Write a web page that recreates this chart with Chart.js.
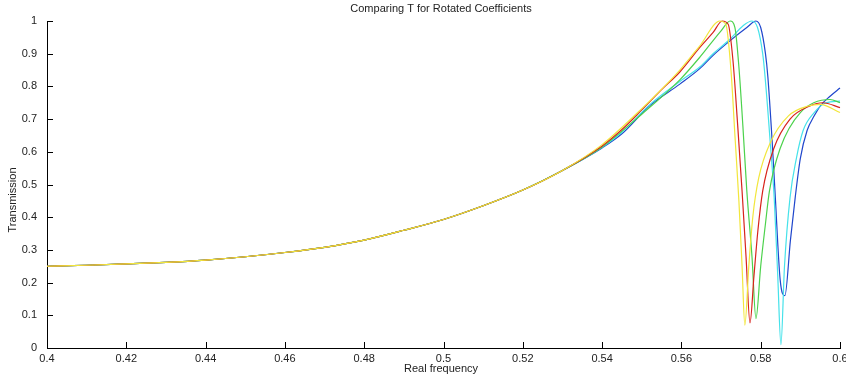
<!DOCTYPE html>
<html>
<head>
<meta charset="utf-8">
<script src="https://cdn.jsdelivr.net/npm/chart.js@4"></script>
<style>
  html, body { margin: 0; padding: 0; background: #fff; }
  canvas { display: block; }
</style>
</head>
<body>
<canvas id="chart" width="846" height="375"></canvas>
<script>
// Axis ticks
const xTicks = [0.4, 0.42, 0.44, 0.46, 0.48, 0.5, 0.52, 0.54, 0.56, 0.58, 0.6];
const yTicks = [0, 0.1, 0.2, 0.3, 0.4, 0.5, 0.6, 0.7, 0.8, 0.9, 1];

// Shared low-frequency part (all curves overlap here)
const lowFreq = [0.40, 0.41, 0.42, 0.43, 0.44, 0.45, 0.46, 0.47, 0.48, 0.49, 0.50, 0.51, 0.52, 0.53];
const lowT    = [0.250, 0.253, 0.257, 0.262, 0.269, 0.279, 0.292, 0.308, 0.330, 0.360, 0.393, 0.435, 0.483, 0.543];

// Resonance region, per curve
const redFreq = [0.54, 0.545, 0.55, 0.555, 0.5596, 0.5647, 0.568, 0.5703, 0.5718, 0.5730, 0.5742, 0.5753, 0.5763, 0.5773, 0.5783, 0.5793, 0.5805, 0.5833, 0.5874, 0.5924, 0.5957, 0.6];
const redT    = [0.618, 0.668, 0.728, 0.79, 0.844, 0.92, 0.965, 1.0, 0.99, 0.88, 0.68, 0.48, 0.28, 0.077, 0.22, 0.36, 0.48, 0.61, 0.70, 0.74, 0.75, 0.735];

const yellowFreq = [0.54, 0.55, 0.5596, 0.5647, 0.5697, 0.5712, 0.5725, 0.5735, 0.5745, 0.5753, 0.5760, 0.5770, 0.578, 0.5795, 0.5825, 0.587, 0.592, 0.595, 0.6];
const yellowT    = [0.622, 0.732, 0.85, 0.925, 1.0, 0.99, 0.85, 0.65, 0.45, 0.25, 0.07, 0.25, 0.40, 0.52, 0.63, 0.71, 0.74, 0.745, 0.72];

const greenFreq = [0.54, 0.55, 0.5596, 0.5647, 0.570, 0.5723, 0.5735, 0.5745, 0.5755, 0.5765, 0.5778, 0.5788, 0.5800, 0.5812, 0.5822, 0.5849, 0.590, 0.5975, 0.6];
const greenT    = [0.615, 0.715, 0.82, 0.89, 0.97, 1.0, 0.98, 0.86, 0.68, 0.48, 0.28, 0.09, 0.25, 0.38, 0.48, 0.61, 0.72, 0.76, 0.75];

const blueFreq = [0.54, 0.545, 0.5521, 0.5596, 0.5647, 0.568, 0.5723, 0.5765, 0.5788, 0.5800, 0.5812, 0.5818, 0.5829, 0.5836, 0.5849, 0.5861, 0.5875, 0.5887, 0.5900, 0.5917, 0.5935, 0.5950, 0.5975, 0.6];
const blueT    = [0.612, 0.655, 0.742, 0.807, 0.855, 0.895, 0.94, 0.98, 1.0, 0.98, 0.90, 0.83, 0.63, 0.48, 0.21, 0.16, 0.33, 0.46, 0.58, 0.665, 0.71, 0.74, 0.77, 0.795];

const cyanFreq = [0.54, 0.545, 0.5521, 0.5596, 0.5647, 0.568, 0.5723, 0.5755, 0.5778, 0.5792, 0.5805, 0.5811, 0.5824, 0.5834, 0.5843, 0.5851, 0.5860, 0.5874, 0.5890, 0.5907, 0.5935, 0.5965, 0.6];
const cyanT    = [0.614, 0.66, 0.745, 0.815, 0.86, 0.90, 0.945, 0.985, 1.0, 0.98, 0.90, 0.83, 0.63, 0.46, 0.22, 0.01, 0.25, 0.46, 0.58, 0.665, 0.72, 0.75, 0.755];

function points(freq, t) {
    return lowFreq.map((f, i) => ({ x: f, y: lowT[i] }))
        .concat(freq.map((f, i) => ({ x: f, y: t[i] })));
}

function line(data, color) {
    return {
        data: data,
        borderColor: color,
        borderWidth: 1.2,
        pointRadius: 0,
        showLine: true,
        cubicInterpolationMode: 'monotone',
        fill: false,
        clip: 3
    };
}

const textColor = '#222';
const font = { family: 'Liberation Sans, Arial, sans-serif', size: 11 };

// title, axis titles and inward tick marks
const decor = {
    id: 'decor',
    afterDraw(chart) {
        const ctx = chart.ctx;
        const area = chart.chartArea;
        const xs = chart.scales.x, ys = chart.scales.y;
        ctx.save();
        ctx.strokeStyle = '#000';
        ctx.lineWidth = 1;
        ctx.beginPath();
        xs.ticks.forEach(t => {
            const px = Math.round(xs.getPixelForValue(t.value)) + 0.5;
            ctx.moveTo(px, area.bottom);
            ctx.lineTo(px, area.bottom - 6);
        });
        ys.ticks.forEach(t => {
            const py = Math.round(ys.getPixelForValue(t.value)) + 0.5;
            ctx.moveTo(area.left, py);
            ctx.lineTo(area.left + 6, py);
        });
        ctx.stroke();

        ctx.fillStyle = textColor;
        ctx.font = '11px Liberation Sans, Arial, sans-serif';
        ctx.textAlign = 'center';
        ctx.textBaseline = 'alphabetic';
        // title sits partly above the top edge, as in the source image
        ctx.fillText('Comparing T for Rotated Coefficients', 441, 12);
        ctx.fillText('Real frequency', 441, 372);
        ctx.translate(16, 200);
        ctx.rotate(-Math.PI / 2);
        ctx.fillText('Transmission', 0, 0);
        ctx.restore();
    }
};

new Chart(document.getElementById('chart'), {
    type: 'scatter',
    data: {
        datasets: [
            line(points(yellowFreq, yellowT), '#f2e63c'),
            line(points(redFreq, redT), '#d8231c'),
            line(points(greenFreq, greenT), '#4cd24c'),
            line(points(cyanFreq, cyanT), '#45e2ea'),
            line(points(blueFreq, blueT), '#1f46cc')
        ]
    },
    plugins: [decor],
    options: {
        responsive: false,
        animation: false,
        devicePixelRatio: 1,
        layout: { padding: { top: 21, right: 6, left: 0, bottom: 0 } },
        plugins: { legend: { display: false }, tooltip: { enabled: false } },
        scales: {
            x: {
                type: 'linear',
                min: 0.4,
                max: 0.6,
                afterBuildTicks: s => { s.ticks = xTicks.map(v => ({ value: v })); },
                afterFit: s => { s.height = 27; s.paddingLeft = 0; s.paddingRight = 0; },
                grid: { display: false, drawTicks: false },
                border: { display: true, color: '#000', width: 1 },
                ticks: { color: textColor, font: font, padding: 4, maxRotation: 0, autoSkip: false,
                         callback: v => String(v) }
            },
            y: {
                type: 'linear',
                min: 0,
                max: 1,
                afterBuildTicks: s => { s.ticks = yTicks.map(v => ({ value: v })); },
                afterFit: s => { s.width = 47; s.paddingTop = 0; s.paddingBottom = 0; },
                grid: { display: false, drawTicks: false },
                border: { display: true, color: '#000', width: 1 },
                ticks: { color: textColor, font: font, padding: 10, autoSkip: false,
                         callback: v => String(v) }
            }
        }
    }
});
</script>
</body>
</html>
